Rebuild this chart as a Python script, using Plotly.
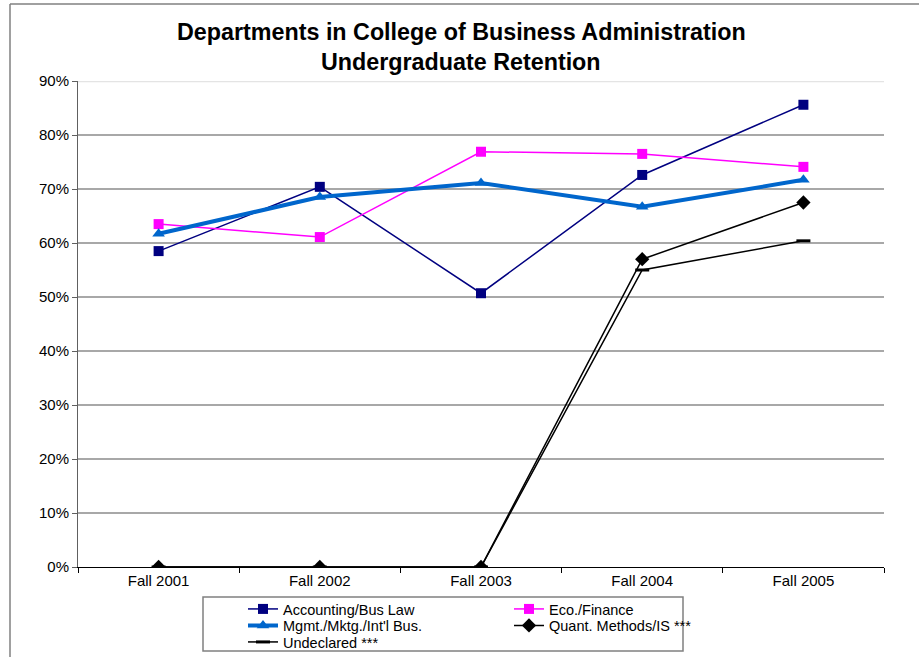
import plotly.graph_objects as go

categories = ["Fall 2001", "Fall 2002", "Fall 2003", "Fall 2004", "Fall 2005"]
accounting = [0.585, 0.704, 0.507, 0.726, 0.856]
eco_finance = [0.635, 0.611, 0.769, 0.765, 0.741]
mgmt = [0.617, 0.685, 0.711, 0.667, 0.717]
quant = [0.0, 0.0, 0.0, 0.570, 0.675]
undeclared = [0.0, 0.0, 0.0, 0.550, 0.604]
y_ticks = [0, 0.1, 0.2, 0.3, 0.4, 0.5, 0.6, 0.7, 0.8, 0.9]

FONT = "Liberation Sans, Arial, sans-serif"

PAGE_W, PAGE_H = 919, 657
L, R, T, B = 78, 884, 81, 567
W, H = R - L, B - T


def px(x):
    return (x - L) / W


def py(y):
    return (B - y) / H


fig = go.Figure()

fig.add_trace(go.Scatter(
    x=categories, y=accounting, name="Accounting/Bus Law", mode="lines+markers",
    line=dict(color="#000080", width=1.5),
    marker=dict(symbol="square", size=10, color="#000080"),
    legend="legend"))
fig.add_trace(go.Scatter(
    x=categories, y=eco_finance, name="Eco./Finance", mode="lines+markers",
    line=dict(color="#FF00FF", width=1.5),
    marker=dict(symbol="square", size=10, color="#FF00FF"),
    legend="legend"))
fig.add_trace(go.Scatter(
    x=categories, y=mgmt, name="Mgmt./Mktg./Int'l Bus.", mode="lines+markers",
    line=dict(color="#0066CC", width=4),
    marker=dict(symbol="triangle-up", size=11, color="#0066CC"),
    legend="legend2"))
fig.add_trace(go.Scatter(
    x=categories, y=quant, name="Quant. Methods/IS ***", mode="lines+markers",
    line=dict(color="#000000", width=1.5),
    marker=dict(symbol="diamond", size=11, color="#000000"),
    legend="legend2"))
fig.add_trace(go.Scatter(
    x=categories, y=undeclared, name="Undeclared ***", mode="lines+markers",
    line=dict(color="#000000", width=1.5),
    marker=dict(symbol="line-ew", size=10, color="#000000",
                line=dict(color="#000000", width=3)),
    legend="legend3"))

leg_common = dict(
    orientation="h", xanchor="left", yanchor="middle",
    bgcolor="rgba(0,0,0,0)", borderwidth=0,
    font=dict(family=FONT, size=14.5, color="#000000"),
    entrywidth=221, entrywidthmode="pixels",
    itemclick=False, itemdoubleclick=False,
)

shapes = [
    # outer chart frame (left and top edges visible)
    dict(type="line", xref="paper", yref="paper", x0=px(10), x1=1.2,
         y0=py(4), y1=py(4), line=dict(color="#808080", width=1.5)),
    dict(type="line", xref="paper", yref="paper", x0=px(10), x1=px(10),
         y0=py(4), y1=-0.3, line=dict(color="#808080", width=1.5)),
    # light top border of plot area at 90%
    dict(type="line", xref="paper", yref="y", x0=0, x1=1, y0=0.9, y1=0.9,
         line=dict(color="#e4e4e4", width=2.5), layer="above"),
    # legend box
    dict(type="rect", xref="paper", yref="paper", x0=px(203), x1=px(683),
         y0=py(651), y1=py(597), line=dict(color="#808080", width=1.5),
         fillcolor="white", layer="above"),
]

annotations = [
    dict(text="<b>Departments in College of Business Administration</b>",
         xref="paper", yref="paper", x=px(461), y=py(32), showarrow=False,
         xanchor="center", yanchor="middle",
         font=dict(family=FONT, size=23.3, color="#000000")),
    dict(text="<b>Undergraduate Retention</b>",
         xref="paper", yref="paper", x=px(461), y=py(62), showarrow=False,
         xanchor="center", yanchor="middle",
         font=dict(family=FONT, size=23.3, color="#000000")),
]

fig.update_layout(
    width=PAGE_W, height=PAGE_H,
    margin=dict(l=L, r=PAGE_W - R, t=T, b=PAGE_H - B, autoexpand=False),
    paper_bgcolor="white", plot_bgcolor="white",
    font=dict(family=FONT, size=15, color="#000000"),
    showlegend=True,
    legend=dict(x=px(243), y=py(609), **leg_common),
    legend2=dict(x=px(243), y=py(625.5), **leg_common),
    legend3=dict(x=px(243), y=py(642), **leg_common),
    shapes=shapes,
    annotations=annotations,
    xaxis=dict(
        type="category", categoryorder="array", categoryarray=categories,
        range=[-0.5, 4.5], showgrid=False, zeroline=False,
        showline=True, linecolor="#000000", linewidth=1,
        ticks="outside", tickson="boundaries", ticklen=5, tickcolor="#000000",
        tickfont=dict(family=FONT, size=15, color="#000000"),
        fixedrange=True,
    ),
    yaxis=dict(
        range=[0, 0.9], tickvals=y_ticks, tickformat=".0%",
        showgrid=True, gridcolor="#a8a8a8", gridwidth=2, zeroline=False,
        showline=True, linecolor="#606060", linewidth=1,
        ticks="outside", ticklen=5, tickcolor="#606060",
        tickfont=dict(family=FONT, size=15, color="#000000"),
        fixedrange=True,
    ),
)

fig.write_html(
    "out.html",
    config={"displayModeBar": False},
    post_script="document.body.style.margin='0px';document.body.style.overflow='hidden';",
)
